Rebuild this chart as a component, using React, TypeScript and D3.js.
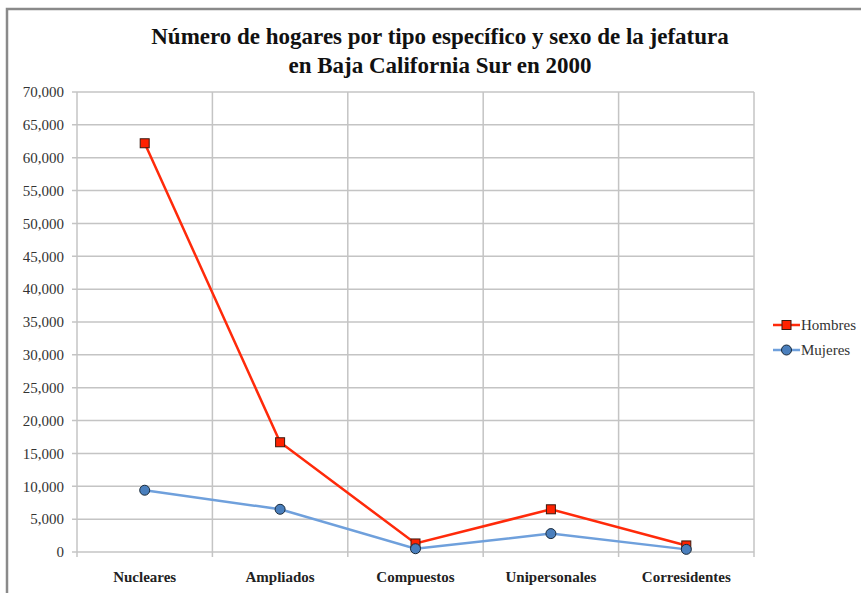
import React, { useEffect, useRef } from "react";
import * as d3 from "d3";

const categories = ["Nucleares", "Ampliados", "Compuestos", "Unipersonales", "Corresidentes"];
const hombres = [62200, 16700, 1300, 6500, 1000];
const mujeres = [9400, 6500, 500, 2800, 400];
const yTicks = [0, 5000, 10000, 15000, 20000, 25000, 30000, 35000, 40000, 45000, 50000, 55000, 60000, 65000, 70000];
const titleLines = ["Número de hogares por tipo específico y sexo de la jefatura", "en Baja California Sur en 2000"];
const seriesNames = ["Hombres", "Mujeres"];

export default function App() {
  const ref = useRef<SVGSVGElement>(null);
  useEffect(() => {
    const svg = d3.select(ref.current);
    svg.selectAll("*").remove();
    const W = 861, H = 593;
    const left = 77, right = 754, top = 92, bottom = 552;
    const font = "'Liberation Serif', 'Times New Roman', serif";

    svg.append("rect").attr("x", 0).attr("y", 0).attr("width", W).attr("height", H).attr("fill", "#fff");
    svg.append("rect").attr("x", 7).attr("y", 9).attr("width", W + 20).attr("height", H + 20)
      .attr("fill", "none").attr("stroke", "#8a8a8a").attr("stroke-width", 2.5);

    const x = d3.scaleBand().domain(categories).range([left, right]);
    const y = d3.scaleLinear().domain([0, 70000]).range([bottom, top]);

    const grid = svg.append("g");
    yTicks.forEach(t => {
      grid.append("line").attr("x1", left - 5).attr("x2", right).attr("y1", y(t)).attr("y2", y(t))
        .attr("stroke", "#c4c4c4").attr("stroke-width", 1.5);
    });
    const xs = [left, ...categories.map(c => (x(c) as number) + x.bandwidth())];
    xs.forEach(xv => {
      grid.append("line").attr("x1", xv).attr("x2", xv).attr("y1", top).attr("y2", bottom + 5)
        .attr("stroke", "#c4c4c4").attr("stroke-width", 1.5);
    });

    svg.append("g").selectAll("text").data(yTicks).join("text")
      .attr("x", 64).attr("y", d => y(d)).attr("dy", "0.35em").attr("text-anchor", "end")
      .attr("font-family", font).attr("font-size", 15).attr("fill", "#333")
      .text(d => d3.format(",")(d));

    svg.append("g").selectAll("text").data(categories).join("text")
      .attr("x", d => (x(d) as number) + x.bandwidth() / 2).attr("y", 582).attr("text-anchor", "middle")
      .attr("font-family", font).attr("font-size", 15).attr("font-weight", "bold").attr("fill", "#222")
      .text(d => d);

    titleLines.forEach((t, i) => {
      svg.append("text").attr("x", 440).attr("y", 44 + i * 29).attr("text-anchor", "middle")
        .attr("font-family", font).attr("font-size", 23).attr("font-weight", "bold").attr("fill", "#111")
        .text(t);
    });

    const cx = (i: number) => (x(categories[i]) as number) + x.bandwidth() / 2;
    const line = d3.line<number>().x((d, i) => cx(i)).y(d => y(d));

    svg.append("path").datum(mujeres).attr("d", line).attr("fill", "none")
      .attr("stroke", "#6fa0dc").attr("stroke-width", 2.5);
    svg.append("path").datum(hombres).attr("d", line).attr("fill", "none")
      .attr("stroke", "#ff2a0a").attr("stroke-width", 2.5);

    const sq = 9, r = 5;
    svg.append("g").selectAll("rect").data(hombres).join("rect")
      .attr("x", (d, i) => cx(i) - sq / 2).attr("y", d => y(d) - sq / 2).attr("width", sq).attr("height", sq)
      .attr("fill", "#ff2200").attr("stroke", "#3a1a10").attr("stroke-width", 1);
    svg.append("g").selectAll("circle").data(mujeres).join("circle")
      .attr("cx", (d, i) => cx(i)).attr("cy", d => y(d)).attr("r", r)
      .attr("fill", "#4a7fbd").attr("stroke", "#1a2a3a").attr("stroke-width", 1);

    // legend
    const lg = svg.append("g");
    seriesNames.forEach((name, i) => {
      const ly = 325 + i * 25;
      const col = i === 0 ? "#ff2a0a" : "#6fa0dc";
      lg.append("line").attr("x1", 773).attr("x2", 800).attr("y1", ly).attr("y2", ly)
        .attr("stroke", col).attr("stroke-width", 2.5);
      if (i === 0) {
        lg.append("rect").attr("x", 786.5 - sq / 2).attr("y", ly - sq / 2).attr("width", sq).attr("height", sq)
          .attr("fill", "#ff2200").attr("stroke", "#3a1a10").attr("stroke-width", 1);
      } else {
        lg.append("circle").attr("cx", 786.5).attr("cy", ly).attr("r", r)
          .attr("fill", "#4a7fbd").attr("stroke", "#1a2a3a").attr("stroke-width", 1);
      }
      lg.append("text").attr("x", 801).attr("y", ly).attr("dy", "0.35em")
        .attr("font-family", font).attr("font-size", 15).attr("fill", "#333").text(name);
    });
  }, []);
  return <svg ref={ref} width={861} height={593} style={{ position: "absolute", left: 0, top: 0, display: "block" }} />;
}
